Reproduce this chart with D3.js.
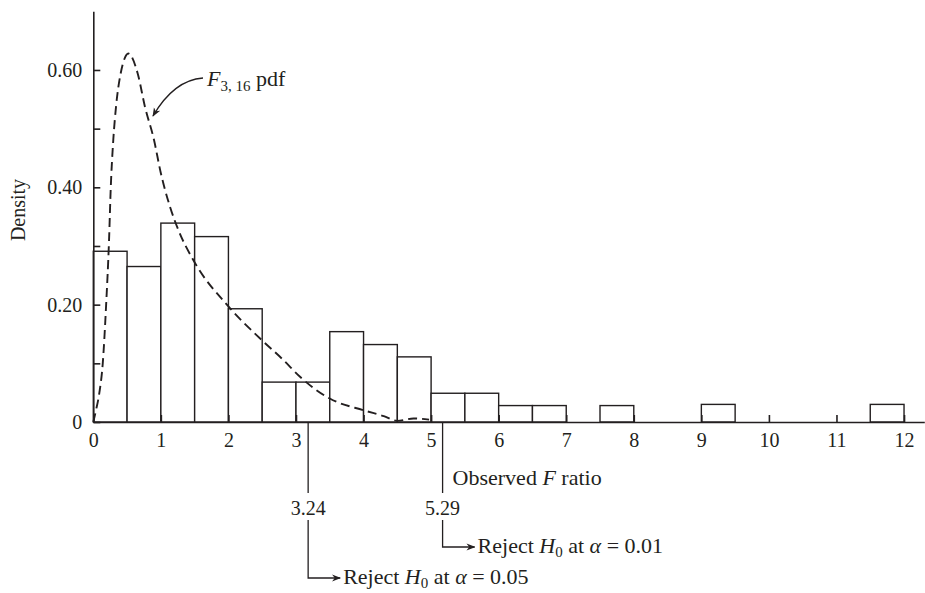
<!DOCTYPE html>
<html><head><meta charset="utf-8">
<script src="https://cdn.jsdelivr.net/npm/d3@7"></script>
<style>
body{margin:0;background:#fff;}
text{font-family:"Liberation Serif","Times New Roman",serif;fill:#231f20;}
</style></head>
<body><svg id="c" width="925" height="593"></svg>
<script>
// ---- data ----
const binStarts = [0,0.5,1,1.5,2,2.5,3,3.5,4,4.5,5,5.5,6,6.5,7,7.5,8,8.5,9,9.5,10,10.5,11,11.5];
const binDensity = [0.291,0.265,0.339,0.316,0.193,0.068,0.068,0.154,0.132,0.111,0.049,0.049,0.028,0.028,0,0.028,0,0,0.030,0,0,0,0,0.030];
const binWidth = 0.5;
const pdfX = [0,0.04,0.09,0.14,0.19,0.233,0.257,0.296,0.336,0.405,0.52,0.657,0.765,0.898,1.0,1.135,1.26,1.48,2.0,2.49,2.81,3.06,3.5,4.0,4.3,4.5,4.74,4.97];
const pdfY = [0,0.02,0.05,0.10,0.20,0.31,0.395,0.481,0.537,0.594,0.628,0.594,0.537,0.481,0.424,0.367,0.327,0.276,0.197,0.14,0.106,0.077,0.040,0.020,0.010,0.002,0.006,0.004];
const xTicks = [0,1,2,3,4,5,6,7,8,9,10,11,12];
const yTicks = [0,0.1,0.2,0.3,0.4,0.5,0.6];
const yLabels = {0:"0",0.2:"0.20",0.4:"0.40",0.6:"0.60"};
const markX = [3.18,5.17];          // where the marker lines sit on the axis
const critLabels = ["3.24","5.29"];
const rejectAlpha = ["0.05","0.01"];

// ---- scales ----
const svg = d3.select("#c");
const x = d3.scaleLinear().domain([0,12.3]).range([93.3,924.3]);
const y = d3.scaleLinear().domain([0,0.7]).range([422,11.3]);
const ink = "#231f20";

// bars
svg.append("g").selectAll("rect")
  .data(binStarts.map((s,i)=>({s,d:binDensity[i]})).filter(d=>d.d>0))
  .join("rect")
  .attr("x",d=>x(d.s)).attr("width",d=>x(d.s+binWidth)-x(d.s))
  .attr("y",d=>y(d.d)).attr("height",d=>y(0)-y(d.d))
  .attr("fill","#fff").attr("stroke",ink).attr("stroke-width",1.4);

// pdf curve
const line = d3.line().x((d,i)=>x(pdfX[i])).y(d=>y(d)).curve(d3.curveMonotoneX);
svg.append("path").attr("d",line(pdfY))
  .attr("fill","none").attr("stroke",ink).attr("stroke-width",1.9)
  .attr("stroke-dasharray","9,5");

// axes
const xAxis = d3.axisBottom(x).tickValues(xTicks).tickSize(-7).tickSizeOuter(0).tickPadding(11).tickFormat(d3.format("d"));
const gx = svg.append("g").attr("transform",`translate(0,${y(0)})`).call(xAxis);
gx.selectAll("text").style("font-size","20px").attr("fill",ink);
gx.selectAll("line,path").attr("stroke",ink).attr("stroke-width",1.6);

const yAxis = d3.axisLeft(y).tickValues(yTicks).tickSize(-7).tickSizeOuter(0).tickPadding(11)
  .tickFormat(d=>yLabels[d]!==undefined?yLabels[d]:"");
const gy = svg.append("g").attr("transform",`translate(${x(0)},0)`).call(yAxis);
gy.selectAll("text").style("font-size","20px").attr("fill",ink);
gy.selectAll("line,path").attr("stroke",ink).attr("stroke-width",1.6);

svg.append("text").attr("transform","translate(25,210) rotate(-90)")
  .attr("text-anchor","middle").style("font-size","20px").text("Density");

// arrow marker
const defs = svg.append("defs");
defs.append("marker").attr("id","ah").attr("viewBox","0 0 10 10").attr("refX",9).attr("refY",5)
  .attr("markerWidth",9).attr("markerHeight",9).attr("markerUnits","userSpaceOnUse").attr("orient","auto")
  .append("path").attr("d","M0,1 L10,5 L0,9 L3,5 Z").attr("fill",ink);

// pdf label
svg.append("path").attr("d","M203,78 Q174,80 153,116").attr("fill","none")
  .attr("stroke",ink).attr("stroke-width",1.3).attr("marker-end","url(#ah)");
const fl = svg.append("text").attr("x",207).attr("y",86).style("font-size","22px");
fl.append("tspan").style("font-style","italic").text("F");
fl.append("tspan").attr("dy",5).style("font-size","15px").text("3, 16");
fl.append("tspan").attr("dy",-5).text(" pdf");

// marker lines and labels
const y0 = y(0);
markX.forEach((v,i)=>{
  const px = x(v);
  svg.append("line").attr("x1",px).attr("x2",px).attr("y1",y0).attr("y2",493)
    .attr("stroke",ink).attr("stroke-width",1.3);
  svg.append("text").attr("x",px).attr("y",515).attr("text-anchor","middle")
    .style("font-size","20px").text(critLabels[i]);
  const yEnd = i===0?578:547;
  svg.append("path").attr("d",`M${px},520 V${yEnd} H${px+32}`).attr("fill","none")
    .attr("stroke",ink).attr("stroke-width",1.3).attr("marker-end","url(#ah)");
  const t = svg.append("text").attr("x",px+35).attr("y",yEnd+6).style("font-size","22px");
  t.append("tspan").text("Reject ");
  t.append("tspan").style("font-style","italic").text("H");
  t.append("tspan").attr("dy",4).style("font-size","15px").text("0");
  t.append("tspan").attr("dy",-4).text(" at ");
  t.append("tspan").style("font-style","italic").text("α");
  t.append("tspan").text(" = "+rejectAlpha[i]);
});

const ob = svg.append("text").attr("x",x(markX[1])+10).attr("y",485).style("font-size","22px");
ob.append("tspan").text("Observed ");
ob.append("tspan").style("font-style","italic").text("F");
ob.append("tspan").text(" ratio");
</script></body></html>
